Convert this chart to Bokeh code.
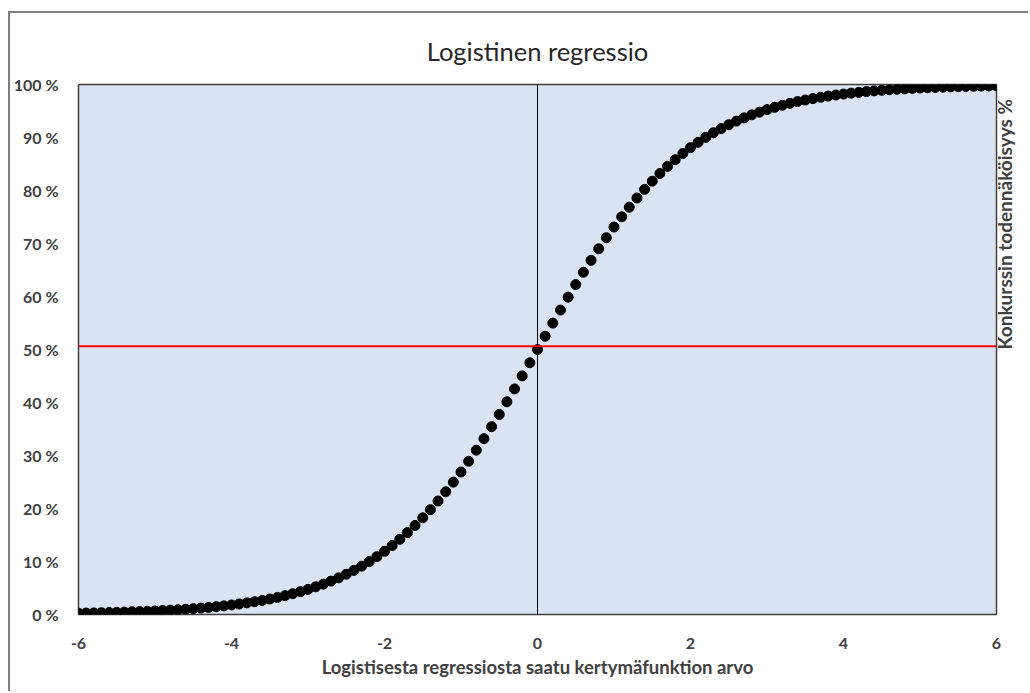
import math

from bokeh.embed import file_html
from bokeh.models import FixedTicker, LinearAxis, PrintfTickFormatter, Span
from bokeh.plotting import figure
from bokeh.resources import INLINE

# Arvot -6 ... 6 välein 0.1
x_vals = [
    -6.0, -5.9, -5.8, -5.7, -5.6, -5.5, -5.4, -5.3, -5.2, -5.1,
    -5.0, -4.9, -4.8, -4.7, -4.6, -4.5, -4.4, -4.3, -4.2, -4.1,
    -4.0, -3.9, -3.8, -3.7, -3.6, -3.5, -3.4, -3.3, -3.2, -3.1,
    -3.0, -2.9, -2.8, -2.7, -2.6, -2.5, -2.4, -2.3, -2.2, -2.1,
    -2.0, -1.9, -1.8, -1.7, -1.6, -1.5, -1.4, -1.3, -1.2, -1.1,
    -1.0, -0.9, -0.8, -0.7, -0.6, -0.5, -0.4, -0.3, -0.2, -0.1,
    0.0,
    0.1, 0.2, 0.3, 0.4, 0.5, 0.6, 0.7, 0.8, 0.9, 1.0,
    1.1, 1.2, 1.3, 1.4, 1.5, 1.6, 1.7, 1.8, 1.9, 2.0,
    2.1, 2.2, 2.3, 2.4, 2.5, 2.6, 2.7, 2.8, 2.9, 3.0,
    3.1, 3.2, 3.3, 3.4, 3.5, 3.6, 3.7, 3.8, 3.9, 4.0,
    4.1, 4.2, 4.3, 4.4, 4.5, 4.6, 4.7, 4.8, 4.9, 5.0,
    5.1, 5.2, 5.3, 5.4, 5.5, 5.6, 5.7, 5.8, 5.9, 6.0,
]

# Konkurssin todennäköisyys prosentteina
prob_pct = [
    0.25, 0.27, 0.30, 0.33, 0.37, 0.41, 0.45, 0.50, 0.55, 0.61,
    0.67, 0.74, 0.82, 0.90, 0.99, 1.10, 1.21, 1.34, 1.48, 1.63,
    1.80, 1.98, 2.19, 2.41, 2.66, 2.93, 3.23, 3.56, 3.92, 4.31,
    4.74, 5.22, 5.73, 6.30, 6.91, 7.59, 8.32, 9.11, 9.98, 10.91,
    11.92, 13.01, 14.19, 15.45, 16.80, 18.24, 19.78, 21.42, 23.15, 24.97,
    26.89, 28.91, 31.00, 33.18, 35.43, 37.75, 40.13, 42.56, 45.02, 47.50,
    50.00,
    52.50, 54.98, 57.44, 59.87, 62.25, 64.57, 66.82, 69.00, 71.09, 73.11,
    75.03, 76.85, 78.58, 80.22, 81.76, 83.20, 84.55, 85.81, 86.99, 88.08,
    89.09, 90.02, 90.89, 91.68, 92.41, 93.09, 93.70, 94.27, 94.78, 95.26,
    95.69, 96.08, 96.44, 96.77, 97.07, 97.34, 97.59, 97.81, 98.02, 98.20,
    98.37, 98.52, 98.66, 98.79, 98.90, 99.01, 99.10, 99.18, 99.26, 99.33,
    99.39, 99.45, 99.50, 99.55, 99.59, 99.63, 99.67, 99.70, 99.73, 99.75,
]

x_ticks = [-6, -4, -2, 0, 2, 4, 6]
y_ticks = [0, 10, 20, 30, 40, 50, 60, 70, 80, 90, 100]
threshold_pct = 50.6

FONT = "Lato"
TEXT = "#404040"

p = figure(
    width=1020,
    height=680,
    x_range=(-6, 6),
    y_range=(0, 100),
    output_backend="svg",
    toolbar_location=None,
    min_border_left=67,
    min_border_right=33,
    min_border_top=71,
    min_border_bottom=79,
    background_fill_color="#dae3f3",
    border_fill_color="white",
)
p.styles = {
    "margin-left": "8px",
    "margin-top": "11px",
    "border-left": "2px solid #7f7f7f",
    "border-top": "2px solid #7f7f7f",
}

p.title.text = "Logistinen regressio"
p.title.align = "center"
p.title.text_font = FONT
p.title.text_font_style = "normal"
p.title.text_font_size = "25.5px"
p.title.text_color = "#262626"
p.title.standoff = 38

p.outline_line_color = "#404040"
p.outline_line_width = 1.5
p.grid.grid_line_color = None

for ax in (p.xaxis, p.yaxis):
    ax.axis_line_color = None
    ax.major_tick_line_color = None
    ax.minor_tick_line_color = None
    ax.major_label_text_font = FONT
    ax.major_label_text_font_style = "bold"
    ax.major_label_text_font_size = "16px"
    ax.major_label_text_color = TEXT

p.xaxis.ticker = FixedTicker(ticks=x_ticks)
p.yaxis.ticker = FixedTicker(ticks=y_ticks)
p.xaxis.formatter = PrintfTickFormatter(format="%d")
p.yaxis.formatter = PrintfTickFormatter(format="%d %%")
p.xaxis.major_label_standoff = 17
p.yaxis.major_label_standoff = 14

p.xaxis.axis_label = "Logistisesta regressiosta saatu kertymäfunktion arvo"
p.xaxis.axis_label_text_font = FONT
p.xaxis.axis_label_text_font_style = "bold"
p.xaxis.axis_label_text_font_size = "18.5px"
p.xaxis.axis_label_text_color = TEXT
p.xaxis.axis_label_standoff = 4

# Oikean reunan otsikko (ei viivaa, merkkejä eikä lukuja), luetaan alhaalta ylös
y_title = LinearAxis(
    axis_label="Konkurssin todennäköisyys %",
    axis_label_orientation=math.pi / 2,
    axis_label_text_font=FONT,
    axis_label_text_font_style="bold",
    axis_label_text_font_size="19px",
    axis_label_text_color=TEXT,
    axis_label_standoff=8,
    axis_line_color=None,
    major_tick_line_color=None,
    minor_tick_line_color=None,
    major_label_text_font_size="0px",
    major_label_standoff=0,
    ticker=FixedTicker(ticks=[]),
)
p.add_layout(y_title, "right")

# Pystyviiva nollakohtaan ja 50 %:n raja
p.add_layout(Span(location=0, dimension="height", line_color="black", line_width=1))
p.add_layout(Span(location=threshold_pct, dimension="width", line_color="#ff0000", line_width=2))

p.scatter(x_vals, prob_pct, size=10, color="black")

open("out.html", "w").write(file_html(p, INLINE))
